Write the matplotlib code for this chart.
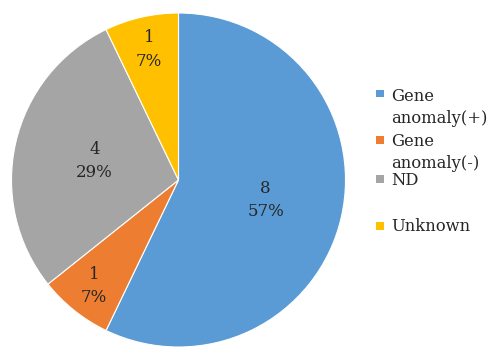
import matplotlib
matplotlib.use("Agg")
import matplotlib.pyplot as plt
import numpy as np
from matplotlib.patches import Rectangle

categories = ["Gene\nanomaly(+)", "Gene\nanomaly(-)", "ND", "Unknown"]
counts = [8, 1, 4, 1]
colors = ["#5B9BD5", "#ED7D31", "#A5A5A5", "#FFC000"]
label_dist = [0.535, 0.81, 0.515, 0.80]

plt.rcParams['font.family'] = ['DejaVu Serif']
fig = plt.figure(figsize=(4.96, 3.47), dpi=100)
ax = fig.add_axes([11.5/496, 0, 334/496, 334/347])
total = sum(counts)
wedges, _ = ax.pie(counts, colors=colors, startangle=90, counterclock=False,
                   wedgeprops=dict(edgecolor="white", linewidth=0.8))
for w, c, d in zip(wedges, counts, label_dist):
    mid = np.deg2rad((w.theta1 + w.theta2) / 2)
    ax.text(d*np.cos(mid), d*np.sin(mid), f"{c}\n{round(100*c/total)}%",
            ha="center", va="center", fontsize=12, color="#262626", linespacing=1.5)
ax.set_xlim(-1, 1); ax.set_ylim(-1, 1)
ax.set_aspect("equal")

# legend (layout positions in pixels from the top)
square_y = [94, 140, 179, 226]
text_baseline = [101, 146, 185, 231]
line_step = 22
for lab, col, sy, by in zip(categories, colors, square_y, text_baseline):
    fig.patches.append(Rectangle((376/496, 1-(sy+3.5)/347), 7.5/496, 7.5/347,
                                 transform=fig.transFigure, facecolor=col, edgecolor="none"))
    for i, line in enumerate(lab.split("\n")):
        fig.text(391/496, 1-(by + i*line_step)/347, line, ha="left", va="baseline",
                 fontsize=11.8, color="#262626")

fig.savefig("out.png", dpi=100)
